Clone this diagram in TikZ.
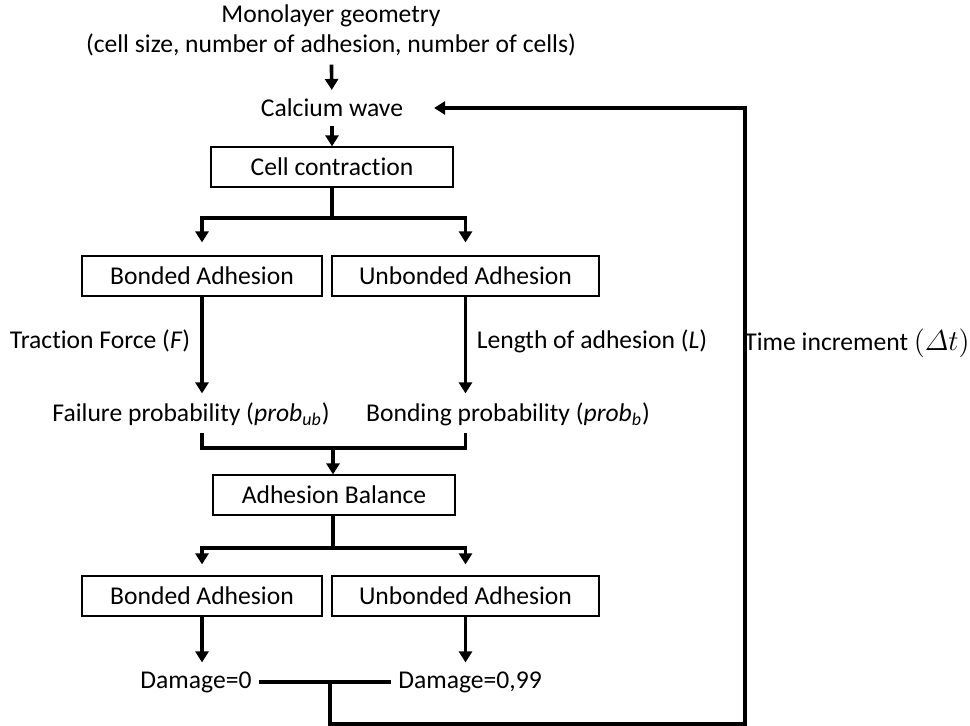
\documentclass[tikz,border=0pt]{standalone}
\usepackage{amsmath}
\usepackage{fontspec}
\setmainfont{Carlito}[Ligatures=NoCommon]
\usetikzlibrary{arrows.meta}
\tikzset{
  box/.style={draw, line width=0.6pt, minimum height=20pt, inner sep=0pt},
  line/.style={line width=1.8pt},
  arr/.style={line width=1.8pt, -{Triangle[width=6.5pt,length=5.5pt]}},
}
\begin{document}
\begin{tikzpicture}[x=0.5pt, y=-0.5pt, font=\fontsize{12.8}{15}\selectfont]
\useasboundingbox (0,0) rectangle (970,726);
% Input and calcium wave
\node[align=center] (geom) at (331,30) {Monolayer geometry\\(cell size, number of adhesion, number of cells)};
\node (calcium) at (332,108) {Calcium wave};
\node[box, minimum width=121pt] (contraction) at (332,167) {Cell contraction};
% First adhesion state
\node[box, minimum width=120pt] (bond1) at (202,276) {Bonded Adhesion};
\node[box, minimum width=133.5pt] (unbond1) at (465.5,276) {Unbonded Adhesion};
\node (traction) at (100,341) {Traction Force (\textit{F})};
\node (length) at (592,341) {Length of adhesion (\textit{L})};
\node (failure) at (191,414) {Failure probability (\textit{prob}\textsubscript{\textit{ub}})};
\node (bonding) at (508,414) {Bonding probability (\textit{prob}\textsubscript{\textit{b}})};
\node[box, minimum width=121pt] (balance) at (334,495) {Adhesion Balance};
% Second adhesion state
\node[box, minimum width=120pt] (bond2) at (202,596) {Bonded Adhesion};
\node[box, minimum width=133.5pt] (unbond2) at (465.5,596) {Unbonded Adhesion};
\node (dmg0) at (196,682) {Damage=0};
\node (dmg99) at (470,682) {Damage=0,99};
\node[inner sep=1pt] (time) at (857,343) {Time increment {\fontsize{13.5}{15}\selectfont$(\varDelta t)$}};
% Branch points
\coordinate (split1) at (332,218);
\coordinate (join) at (333,448);
\coordinate (split2) at (333,548);
\coordinate (loop) at (330,682);
\coordinate (corner) at (745,724);
% Draw arrows
\draw[arr, shorten <=1pt, shorten >=1pt] (geom) -- (calcium);
\draw[arr, shorten <=1pt] (calcium) -- (contraction);
\draw[line] (contraction) -- (split1);
\draw[arr, shorten >=6.5pt] (split1) -| (bond1);
\draw[arr, shorten >=6.5pt] (split1) -| (unbond1);
\draw[arr, shorten >=1pt] (bond1) -- (bond1.south |- failure.north);
\draw[arr, shorten >=1pt] (unbond1) -- (unbond1.south |- bonding.north);
\draw[line] (bond1.south |- failure.south) |- (join) -| (unbond1.south |- bonding.south);
\draw[arr] (join) -- (join |- balance.north);
\draw[line] (balance.south -| split2) -- (split2);
\draw[arr, shorten >=5.5pt] (split2) -| (bond2);
\draw[arr, shorten >=5.5pt] (split2) -| (unbond2);
\draw[arr, shorten >=1pt] (bond2) -- (bond2.south |- dmg0.north);
\draw[arr, shorten >=1pt] (unbond2) -- (unbond2.south |- dmg99.north);
% Feedback loop
\draw[line] (dmg0) -- (dmg99);
\draw[arr, line join=miter, shorten >=12pt] (loop) |- (corner) |- (calcium);
\end{tikzpicture}
\end{document}
